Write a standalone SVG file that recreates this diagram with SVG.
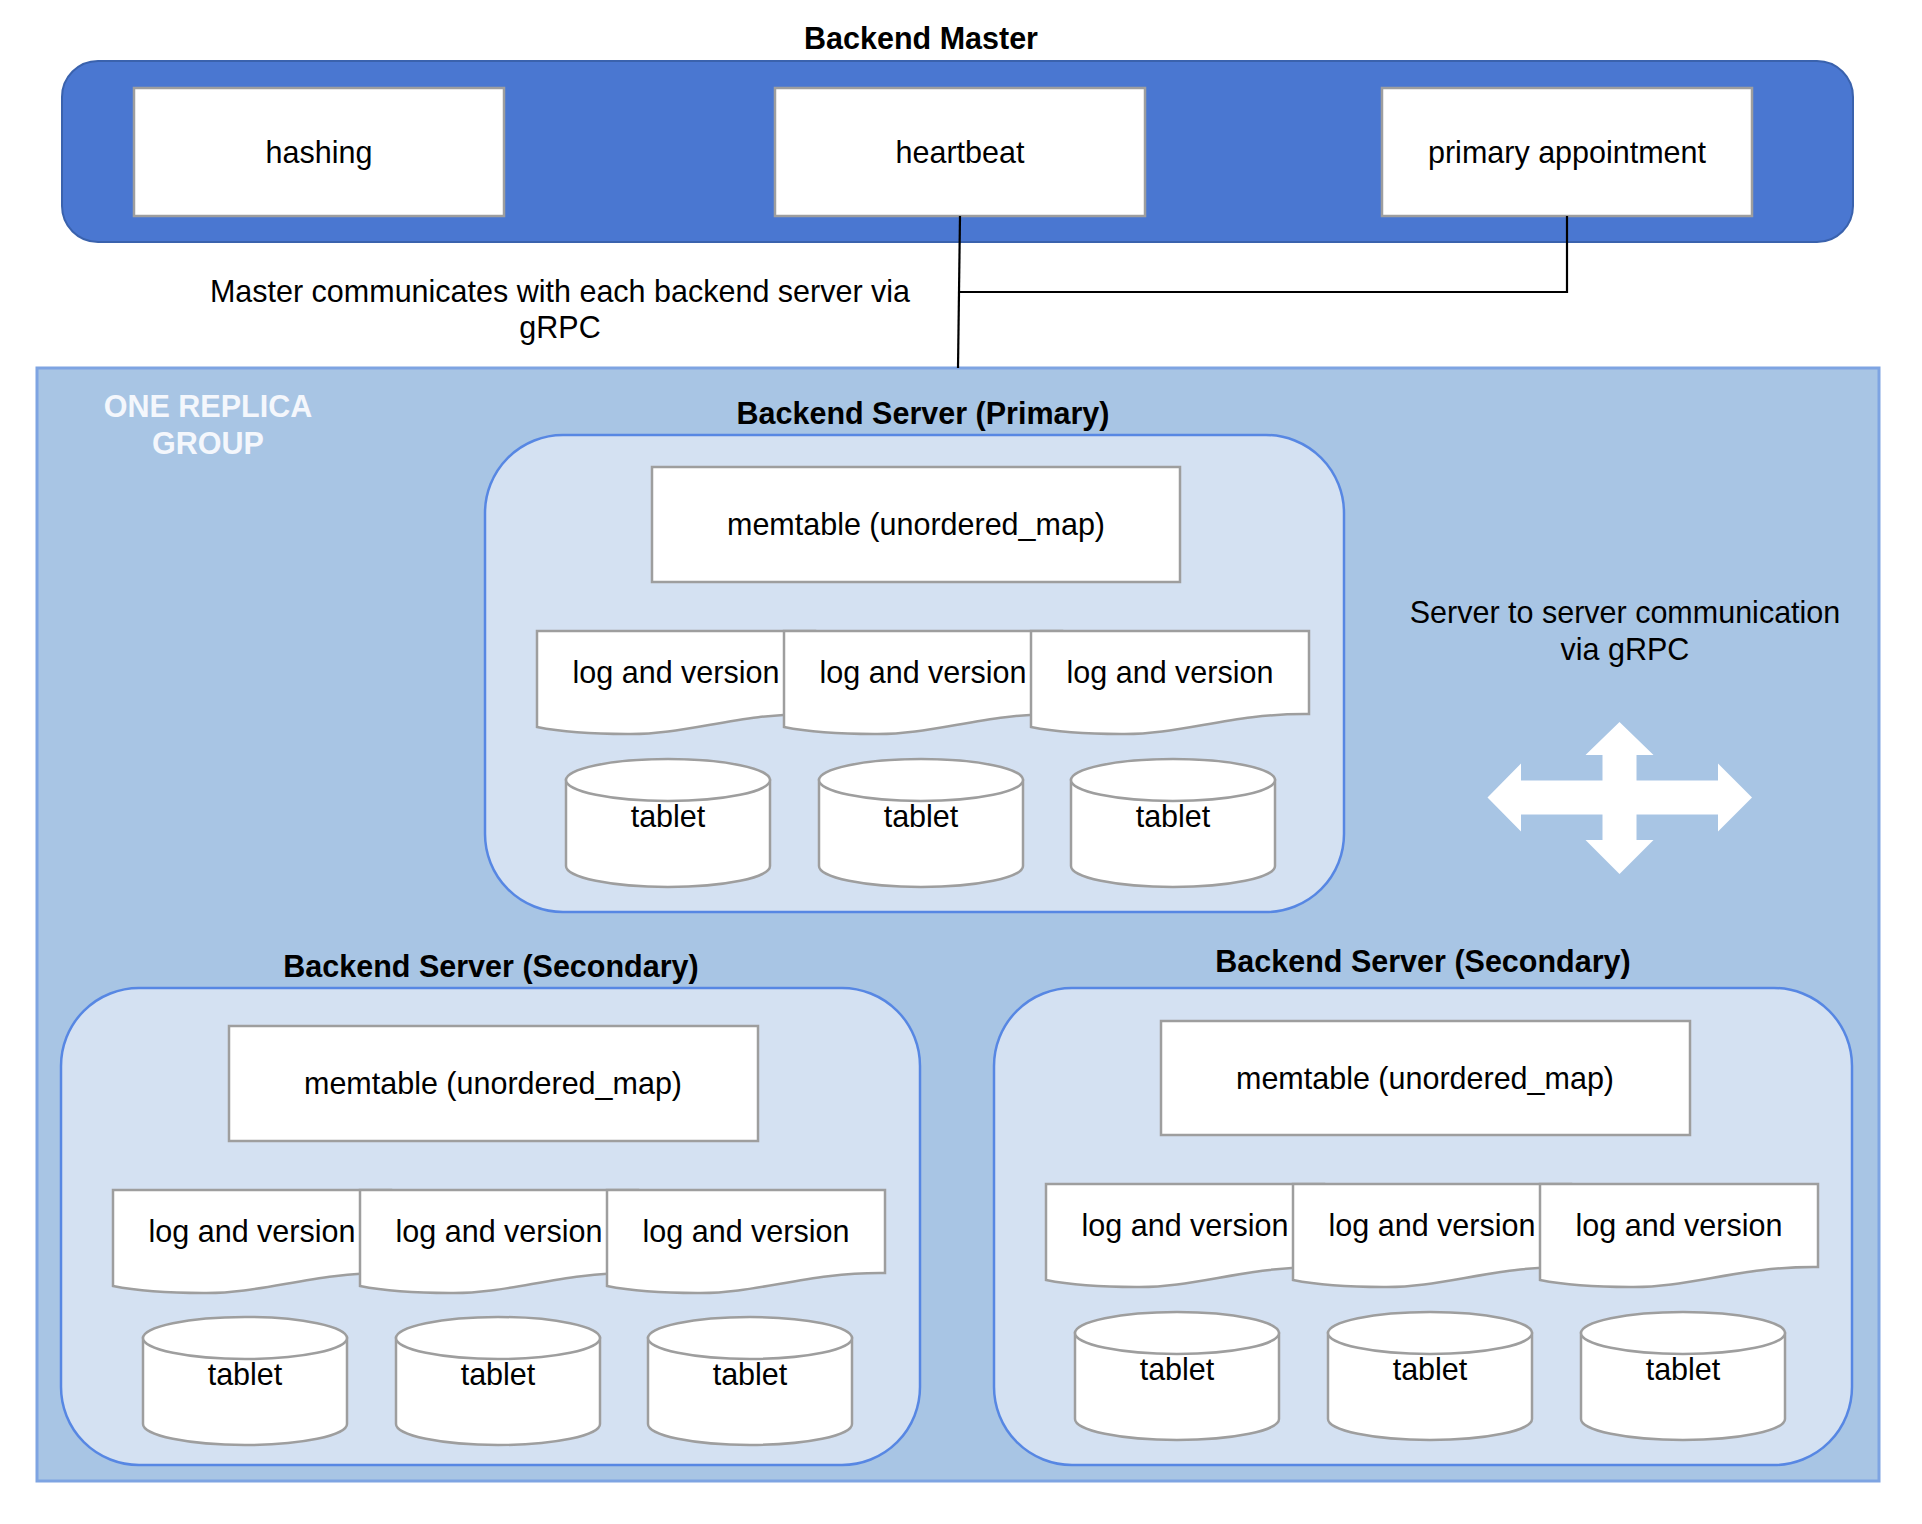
<svg xmlns="http://www.w3.org/2000/svg" xmlns:xlink="http://www.w3.org/1999/xlink" width="1922" height="1524" viewBox="0 0 1922 1524">
<style>
text{font-family:"Liberation Sans",Arial,sans-serif;font-size:30.5px;fill:#000;text-anchor:middle}
.b{font-weight:bold}
.w{fill:#f4f7fc;font-weight:bold}
.box{fill:#fff;stroke:#9e9e9e;stroke-width:2.5}
.srv{fill:#d4e1f2;stroke:#5787e3;stroke-width:2.5}
.conn{fill:none;stroke:#000;stroke-width:2.2}
</style>
<defs>
<path id="doc" class="box" d="M0,0 H278 V83 C200,82 150,104 90,103 C50,103 20,100 0,96 Z"/>
<g id="cyl">
<path class="box" d="M0,21 V107 A102,21 0 0 0 204,107 V21 Z"/>
<ellipse class="box" cx="102" cy="21" rx="102" ry="21"/>
</g>
</defs>
<rect width="1922" height="1524" fill="#fff"/>

<g id="master">
<rect x="62" y="61" width="1791" height="181" rx="36" fill="#4a77d1" stroke="#3a62ad" stroke-width="2"/>
<text class="b" x="921" y="49">Backend Master</text>
<g id="hashing"><rect class="box" x="134" y="88" width="370" height="128"/><text x="319" y="163">hashing</text></g>
<g id="heartbeat"><rect class="box" x="775" y="88" width="370" height="128"/><text x="960" y="163">heartbeat</text></g>
<g id="primary-appointment"><rect class="box" x="1382" y="88" width="370" height="128"/><text x="1567" y="163">primary appointment</text></g>
</g>

<g id="master-note"><text x="560" y="302">Master communicates with each backend server via</text><text x="560" y="338">gRPC</text></g>

<g id="replica-group">
<rect x="37" y="368" width="1842" height="1113" fill="#a8c5e4" stroke="#7ea4e2" stroke-width="3"/>
<text class="w" x="208" y="417">ONE REPLICA</text>
<text class="w" x="208" y="454">GROUP</text>
</g>

<g id="connectors">
<path class="conn" d="M960,216 L958,368"/>
<path class="conn" d="M1567,216 V292 H958"/>
</g>

<g id="server-primary">
<text class="b" x="923" y="424">Backend Server (Primary)</text>
<rect class="srv" x="485" y="435" width="859" height="477" rx="78"/>
<g id="p-mem"><rect class="box" x="652" y="467" width="528" height="115"/><text x="916" y="535">memtable (unordered_map)</text></g>
<g id="p-log1"><use href="#doc" x="537" y="631"/><text x="676" y="683">log and version</text></g>
<g id="p-log2"><use href="#doc" x="784" y="631"/><text x="923" y="683">log and version</text></g>
<g id="p-log3"><use href="#doc" x="1031" y="631"/><text x="1170" y="683">log and version</text></g>
<g id="p-tab1"><use href="#cyl" x="566" y="759"/><text x="668" y="827">tablet</text></g>
<g id="p-tab2"><use href="#cyl" x="819" y="759"/><text x="921" y="827">tablet</text></g>
<g id="p-tab3"><use href="#cyl" x="1071" y="759"/><text x="1173" y="827">tablet</text></g>
</g>

<g id="server-secondary-left">
<text class="b" x="491" y="977">Backend Server (Secondary)</text>
<rect class="srv" x="61" y="988" width="859" height="477" rx="78"/>
<g id="l-mem"><rect class="box" x="229" y="1026" width="529" height="115"/><text x="493" y="1094">memtable (unordered_map)</text></g>
<g id="l-log1"><use href="#doc" x="113" y="1190"/><text x="252" y="1242">log and version</text></g>
<g id="l-log2"><use href="#doc" x="360" y="1190"/><text x="499" y="1242">log and version</text></g>
<g id="l-log3"><use href="#doc" x="607" y="1190"/><text x="746" y="1242">log and version</text></g>
<g id="l-tab1"><use href="#cyl" x="143" y="1317"/><text x="245" y="1385">tablet</text></g>
<g id="l-tab2"><use href="#cyl" x="396" y="1317"/><text x="498" y="1385">tablet</text></g>
<g id="l-tab3"><use href="#cyl" x="648" y="1317"/><text x="750" y="1385">tablet</text></g>
</g>

<g id="server-secondary-right">
<text class="b" x="1423" y="972">Backend Server (Secondary)</text>
<rect class="srv" x="994" y="988" width="858" height="477" rx="78"/>
<g id="r-mem"><rect class="box" x="1161" y="1021" width="529" height="114"/><text x="1425" y="1089">memtable (unordered_map)</text></g>
<g id="r-log1"><use href="#doc" x="1046" y="1184"/><text x="1185" y="1236">log and version</text></g>
<g id="r-log2"><use href="#doc" x="1293" y="1184"/><text x="1432" y="1236">log and version</text></g>
<g id="r-log3"><use href="#doc" x="1540" y="1184"/><text x="1679" y="1236">log and version</text></g>
<g id="r-tab1"><use href="#cyl" x="1075" y="1312"/><text x="1177" y="1380">tablet</text></g>
<g id="r-tab2"><use href="#cyl" x="1328" y="1312"/><text x="1430" y="1380">tablet</text></g>
<g id="r-tab3"><use href="#cyl" x="1581" y="1312"/><text x="1683" y="1380">tablet</text></g>
</g>

<g id="s2s-comm">
<text x="1625" y="623">Server to server communication</text>
<text x="1625" y="660">via gRPC</text>
<polygon fill="#fff" points="1619.5,722 1653.5,755 1636.5,755 1636.5,780.5 1718,780.5 1718,763.5 1752,797.5 1718,831.5 1718,814.5 1636.5,814.5 1636.5,840 1653.5,840 1619.5,874 1585.5,840 1602.5,840 1602.5,814.5 1521,814.5 1521,831.5 1487.5,797.5 1521,763.5 1521,780.5 1602.5,780.5 1602.5,755 1585.5,755"/>
</g>
</svg>
